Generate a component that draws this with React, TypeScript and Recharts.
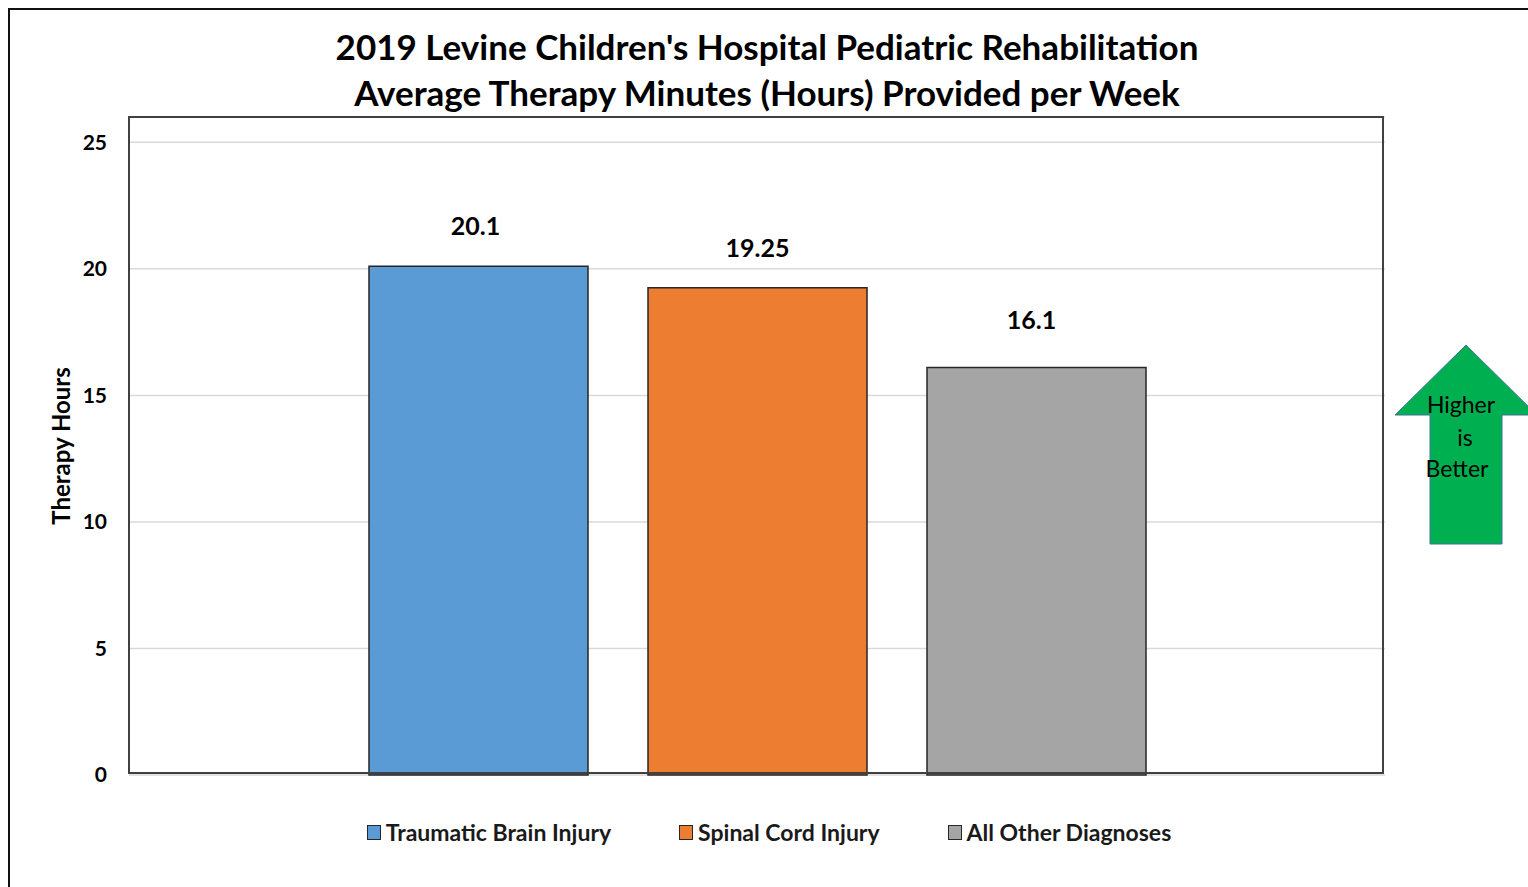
import React from "react"
import { BarChart, Bar, XAxis, YAxis, CartesianGrid, LabelList } from "recharts"

// values
const seriesNames = ["Traumatic Brain Injury", "Spinal Cord Injury", "All Other Diagnoses"]
const seriesKeys = ["tbi", "sci", "other"]
const seriesValues = [20.1, 19.25, 16.1]
const seriesColors = ["#5B9BD5", "#ED7D31", "#A5A5A5"]
const yTicks = [0, 5, 10, 15, 20, 25]
const titleLines = [
  "2019 Levine Children's Hospital Pediatric Rehabilitation",
  "Average Therapy Minutes (Hours) Provided per Week",
]

const row: Record<string, string | number> = { name: "2019" }
seriesKeys.forEach((k, i) => {
  row[k] = seriesValues[i]
})
const data = [row]

const FONT = "Lato, 'Open Sans', sans-serif"

const W = 1520
const H = 879
const yAxisW = 81
const margin = { top: 109, right: 143, bottom: 112, left: 40 }
const plotW = W - margin.left - margin.right - yAxisW
const plotH = H - margin.top - margin.bottom
// the last label sits a bit higher in the original
const labelOffsets = [31, 31, 39]
const labelDx = [-3, 0, -5]

const AxisTitle = (props: any) => {
  const { viewBox } = props
  const cx = viewBox.x + 12
  const cy = viewBox.y + viewBox.height / 2
  return (
    <text
      x={cx}
      y={cy}
      transform={`rotate(-90, ${cx}, ${cy})`}
      textAnchor="middle"
      dominantBaseline="central"
      fill="#000"
      fontSize={24}
      fontWeight={700}
      fontFamily={FONT}
    >
      Therapy Hours
    </text>
  )
}

export default function App() {
  return (
    <div
      style={{
        position: "fixed",
        left: 8,
        top: 8,
        width: W,
        height: H,
        overflow: "hidden",
        fontFamily: FONT,
        background: "#fff",
      }}
    >
      {/* outer frame (only top/left visible in the original crop) */}
      <div
        style={{
          position: "absolute",
          left: 0,
          top: 0,
          width: W + 10,
          height: H + 10,
          borderTop: "2px solid #111",
          borderLeft: "2px solid #111",
        }}
      />

      <div
        style={{
          position: "absolute",
          left: 0,
          width: 1518,
          top: 15,
          textAlign: "center",
          fontWeight: 700,
          fontSize: 35,
          lineHeight: "46px",
          color: "#000",
        }}
      >
        {titleLines.map((t) => (
          <div key={t}>{t}</div>
        ))}
      </div>

      <div style={{ position: "absolute", left: 0, top: 0 }}>
        <BarChart width={W} height={H} data={data} margin={margin} barSize={219} barGap={60}>
          <CartesianGrid vertical={false} stroke="#d9d9d9" strokeWidth={1.5} />
          <XAxis dataKey="name" hide />
          <YAxis
            width={yAxisW}
            domain={[0, 26]}
            ticks={yTicks}
            interval={0}
            axisLine={false}
            tickLine={false}
            tickSize={0}
            tickMargin={22}
            tick={{ fill: "#000", fontSize: 21, fontWeight: 700, fontFamily: FONT }}
            label={<AxisTitle />}
          />
          {seriesKeys.map((k, i) => (
            <Bar
              key={k}
              dataKey={k}
              name={seriesNames[i]}
              fill={seriesColors[i]}
              stroke="#262626"
              strokeWidth={1.5}
              isAnimationActive={false}
            >
              <LabelList
                dataKey={k}
                position="top"
                offset={labelOffsets[i]}
                dx={labelDx[i]}
                fill="#000"
                fontSize={25}
                fontWeight={700}
                fontFamily={FONT}
              />
            </Bar>
          ))}
        </BarChart>
      </div>

      {/* plot area border */}
      <div
        style={{
          position: "absolute",
          left: margin.left + yAxisW,
          top: margin.top,
          width: plotW,
          height: plotH,
          border: "2px solid #404040",
          boxSizing: "border-box",
          transform: "translate(-1px,-1px)",
          pointerEvents: "none",
        }}
      />

      {/* legend */}
      <div
        style={{
          position: "absolute",
          left: margin.left + yAxisW + 12,
          width: plotW,
          top: 810,
          display: "flex",
          justifyContent: "center",
          gap: 68,
          fontSize: 23,
          fontWeight: 700,
          color: "#1a1a1a",
        }}
      >
        {seriesNames.map((n, i) => (
          <div key={n} style={{ display: "flex", alignItems: "center", gap: 5 }}>
            <span
              style={{
                display: "inline-block",
                width: 12,
                height: 13,
                background: seriesColors[i],
                border: "1.5px solid #262626",
              }}
            />
            <span>{n}</span>
          </div>
        ))}
      </div>

      {/* "Higher is Better" arrow */}
      <svg style={{ position: "absolute", left: 0, top: 0 }} width={W + 20} height={H}>
        <polygon
          points="1458,337 1387,407 1422,407 1422,536 1494,536 1494,407 1529,407"
          fill="#00B050"
          stroke="#41719C"
          strokeWidth={1}
        />
        <g fill="#000" fontSize={23} fontFamily={FONT} textAnchor="middle" dominantBaseline="central">
          <text x={1453} y={396}>Higher</text>
          <text x={1457} y={429}>is</text>
          <text x={1449} y={460}>Better</text>
        </g>
      </svg>
    </div>
  )
}
